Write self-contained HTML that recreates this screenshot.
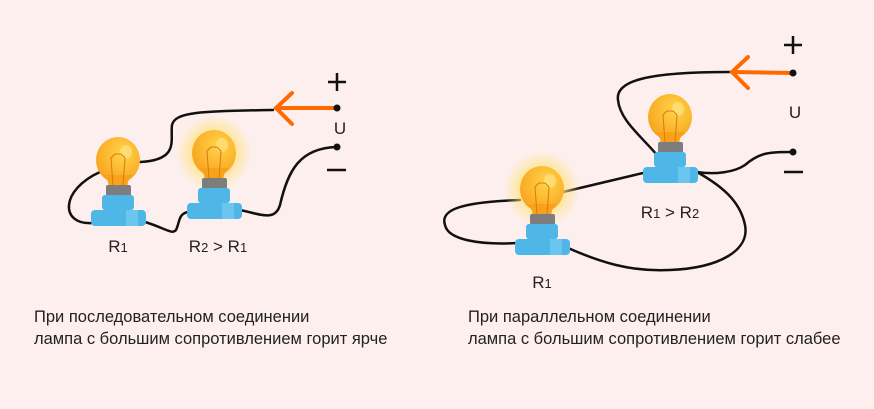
<!DOCTYPE html>
<html><head><meta charset="utf-8"><style>
html,body{margin:0;padding:0;background:#fdefee;}
svg{display:block}
text{font-family:"Liberation Sans","DejaVu Sans",sans-serif;fill:#222}
</style></head><body>
<svg width="874" height="409" viewBox="0 0 874 409" xmlns="http://www.w3.org/2000/svg">
<defs>
<radialGradient id="glow"><stop offset="0.45" stop-color="#ffe27a" stop-opacity="0.9"/><stop offset="1" stop-color="#ffe27a" stop-opacity="0"/></radialGradient>
<radialGradient id="globe" cx="0.6" cy="0.35" r="0.7"><stop offset="0" stop-color="#ffd44a"/><stop offset="1" stop-color="#f8a21c"/></radialGradient>
<g id="bulb">
<ellipse cx="0" cy="0" rx="22" ry="23" fill="url(#globe)"/>
<path d="M-15,15 Q-8,22 -10,26 L10,26 Q8,22 15,15 Z" fill="#f8a21c"/>
<ellipse cx="8" cy="-8" rx="6" ry="7" fill="#ffe07a" opacity="0.8"/>
<path d="M-5,26 L-7,-2 L-3,-6 L3,-6 L7,-2 L5,26" fill="none" stroke="#d97a10" stroke-width="1"/>
<rect x="-12" y="25" width="25" height="11" rx="2" fill="#7d7d7d"/>
<rect x="-16" y="35" width="32" height="15" rx="3" fill="#4fb6e8"/>
<rect x="-27" y="50" width="55" height="16" rx="4" fill="#4fb6e8"/>
<rect x="8" y="50" width="12" height="16" fill="#7fd0f3" opacity="0.6"/>
</g>
</defs>
<g fill="none" stroke="#111" stroke-width="2.5" stroke-linecap="round">
<path d="M273,110 C200,111 175,112 172,125 C170,140 180,160 140,162"/>
<path d="M100,172 C60,190 60,225 92,223"/>
<path d="M145,222 C165,228 172,235 176,230 C180,222 178,214 188,212"/>
<path d="M240,210 C260,214 275,222 280,205 C288,170 300,148 337,147"/>
<path d="M730,72 C650,72 615,80 618,100 C620,120 640,135 657,155"/>
<path d="M643,173 L563,192"/>
<path d="M520,200 C460,202 440,210 445,225 C448,240 480,245 517,243"/>
<path d="M568,248 C600,262 630,272 670,270 C720,268 750,250 745,225 C740,200 720,185 697,172"/>
<path d="M697,172 C715,175 735,172 745,165 C760,152 770,152 793,152"/>
</g>
<circle cx="214" cy="153" r="38" fill="url(#glow)"/>
<circle cx="542" cy="189" r="38" fill="url(#glow)"/>
<use href="#bulb" x="118" y="160"/>
<use href="#bulb" x="214" y="153"/>
<use href="#bulb" x="542" y="189"/>
<use href="#bulb" x="670" y="117"/>
<g stroke="#ff6a00" stroke-width="4" fill="none" stroke-linecap="round">
<path d="M337,108 L276,108 M292,93 L276,108 L292,124"/>
<path d="M793,73 L732,72 M748,57 L732,72 L748,88"/>
</g>
<g fill="#111"><circle cx="337" cy="108" r="3.5"/><circle cx="337" cy="147" r="3.5"/><circle cx="793" cy="73" r="3.5"/><circle cx="793" cy="152" r="3.5"/></g>
<g stroke="#111" stroke-width="2.5"><path d="M328,82 H346 M337,73 V91 M327,170 H346 M784,45 H802 M793,36 V54 M784,172 H803"/></g>
<g font-size="17" text-anchor="middle"><text x="340" y="134">U</text><text x="795" y="118">U</text>
<text x="118" y="252">R<tspan font-size="13">1</tspan></text>
<text x="218" y="252">R<tspan font-size="13">2</tspan> &gt; R<tspan font-size="13">1</tspan></text>
<text x="542" y="288">R<tspan font-size="13">1</tspan></text>
<text x="670" y="218">R<tspan font-size="13">1</tspan> &gt; R<tspan font-size="13">2</tspan></text></g>
<g font-size="16.5"><text x="34" y="322">При последовательном соединении</text><text x="34" y="344">лампа с большим сопротивлением горит ярче</text>
<text x="468" y="322">При параллельном соединении</text><text x="468" y="344">лампа с большим сопротивлением горит слабее</text></g>
</svg>
</body></html>
